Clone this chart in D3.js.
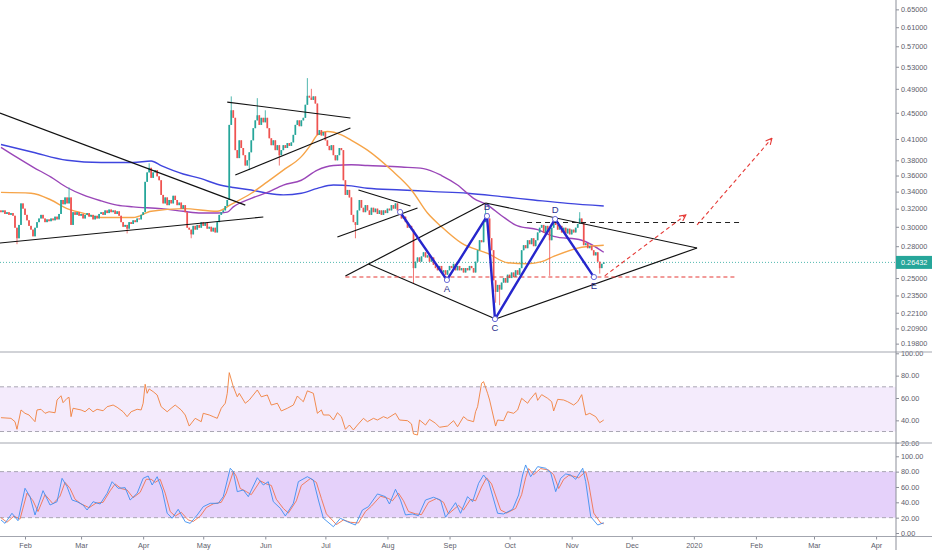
<!DOCTYPE html>
<html>
<head>
<meta charset="utf-8">
<script src="https://cdn.jsdelivr.net/npm/d3@7"></script>
<style>
  body { margin: 0; background: #fff; }
  svg { display: block; font-family: "Liberation Sans", Arial, sans-serif; }
</style>
</head>
<body>
<div id="chart"></div>
<script>
// ---- data ----
// daily candles starting 2019-01-20, day index 0..301
const firstOpen = 0.318;
const closes = [
  0.316, 0.318, 0.314, 0.316, 0.313, 0.315, 0.312, 0.299, 0.288, 0.302,
  0.326, 0.320, 0.313, 0.307, 0.301, 0.297, 0.290, 0.299, 0.305, 0.309,
  0.313, 0.309, 0.305, 0.308, 0.306, 0.309, 0.307, 0.311, 0.308, 0.314,
  0.330, 0.325, 0.333, 0.326, 0.333, 0.302, 0.316, 0.313, 0.316, 0.312,
  0.314, 0.309, 0.313, 0.315, 0.311, 0.313, 0.308, 0.312, 0.309, 0.314,
  0.316, 0.313, 0.318, 0.315, 0.319, 0.316, 0.318, 0.314, 0.317, 0.312,
  0.305, 0.300, 0.302, 0.298, 0.305, 0.303, 0.307, 0.305, 0.309, 0.308,
  0.313, 0.316, 0.352, 0.364, 0.370, 0.357, 0.364, 0.367, 0.359, 0.354,
  0.336, 0.326, 0.333, 0.324, 0.330, 0.326, 0.335, 0.330, 0.324, 0.327,
  0.320, 0.324, 0.316, 0.299, 0.297, 0.292, 0.301, 0.297, 0.302, 0.299,
  0.305, 0.301, 0.304, 0.298, 0.300, 0.295, 0.299, 0.294, 0.305, 0.313,
  0.316, 0.318, 0.323, 0.330, 0.431, 0.454, 0.442, 0.394, 0.383, 0.408,
  0.397, 0.387, 0.373, 0.380, 0.391, 0.408, 0.426, 0.438, 0.446, 0.431,
  0.442, 0.435, 0.442, 0.426, 0.411, 0.401, 0.408, 0.394, 0.401, 0.387,
  0.394, 0.401, 0.397, 0.404, 0.400, 0.405, 0.416, 0.431, 0.438, 0.429,
  0.438, 0.442, 0.463, 0.478, 0.475, 0.471, 0.477, 0.465, 0.416, 0.423,
  0.415, 0.420, 0.408, 0.400, 0.394, 0.401, 0.387, 0.380, 0.387, 0.397,
  0.394, 0.354, 0.336, 0.342, 0.333, 0.313, 0.305, 0.302, 0.318, 0.330,
  0.321, 0.316, 0.324, 0.318, 0.313, 0.321, 0.316, 0.320, 0.314, 0.318,
  0.313, 0.318, 0.315, 0.320, 0.318, 0.324, 0.320, 0.326, 0.318, 0.313,
  0.309, 0.311, 0.305, 0.299, 0.301, 0.297, 0.259, 0.265, 0.269, 0.265,
  0.270, 0.274, 0.269, 0.271, 0.265, 0.269, 0.262, 0.259, 0.257, 0.261,
  0.255, 0.257, 0.253, 0.257, 0.261, 0.259, 0.263, 0.257, 0.261, 0.257,
  0.259, 0.255, 0.259, 0.257, 0.261, 0.259, 0.255, 0.265, 0.276, 0.286,
  0.284, 0.305, 0.315, 0.309, 0.288, 0.276, 0.248, 0.238, 0.244, 0.240,
  0.246, 0.250, 0.246, 0.253, 0.250, 0.255, 0.251, 0.257, 0.253, 0.259,
  0.276, 0.281, 0.278, 0.286, 0.282, 0.288, 0.280, 0.286, 0.294, 0.299,
  0.302, 0.294, 0.301, 0.297, 0.286, 0.299, 0.305, 0.302, 0.297, 0.301,
  0.294, 0.299, 0.293, 0.298, 0.292, 0.297, 0.294, 0.299, 0.303, 0.309,
  0.305, 0.281, 0.283, 0.278, 0.280, 0.276, 0.271, 0.274, 0.265, 0.259,
  0.263, 0.26432
];
// notable wicks [day, price]
const wickHighs = [[34, 0.345], [74, 0.376], [115, 0.477], [128, 0.474], [132, 0.454],
  [153, 0.509], [155, 0.490], [242, 0.324], [289, 0.316]];
const wickLows = [[8, 0.282], [63, 0.293], [95, 0.288], [124, 0.367], [139, 0.373],
  [177, 0.288], [206, 0.245], [247, 0.229], [249, 0.227], [274, 0.252], [299, 0.254]];

// moving averages [day, price]
const maOrange = [[0, 0.339], [15, 0.338], [25, 0.330], [33, 0.320], [41, 0.315], [50, 0.310],
  [58, 0.310], [66, 0.310], [75, 0.317], [91, 0.320], [108, 0.317], [115, 0.325], [125, 0.338],
  [133, 0.352], [141, 0.367], [150, 0.385], [155, 0.403], [158, 0.416], [163, 0.421], [170, 0.416],
  [175, 0.408], [183, 0.394], [195, 0.367], [205, 0.342], [213, 0.315], [220, 0.300], [230, 0.283],
  [243, 0.273], [253, 0.264], [263, 0.263], [270, 0.265], [276, 0.270], [290, 0.279], [301, 0.281]];
const maPurple = [[0, 0.398], [8, 0.384], [16, 0.371], [25, 0.358], [33, 0.345], [41, 0.336],
  [50, 0.329], [58, 0.324], [66, 0.322], [80, 0.320], [91, 0.317], [100, 0.315], [108, 0.315],
  [113, 0.316], [116, 0.322], [125, 0.332], [133, 0.339], [141, 0.348], [150, 0.354], [158, 0.367],
  [166, 0.373], [175, 0.374], [183, 0.373], [200, 0.371], [211, 0.369], [220, 0.360], [228, 0.348],
  [236, 0.332], [243, 0.324], [250, 0.312], [258, 0.301], [268, 0.297], [276, 0.290], [290, 0.286],
  [301, 0.274]];
const maBlue = [[0, 0.402], [16, 0.391], [33, 0.380], [50, 0.377], [66, 0.377], [75, 0.379],
  [80, 0.373], [91, 0.362], [100, 0.356], [108, 0.349], [116, 0.345], [125, 0.342], [133, 0.338],
  [141, 0.336], [150, 0.338], [158, 0.344], [166, 0.348], [175, 0.347], [183, 0.344], [200, 0.342],
  [216, 0.340], [233, 0.338], [250, 0.334], [266, 0.330], [283, 0.326], [301, 0.323]];

// RSI [day, value]
const rsi = [[0, 42.4], [5, 41.8], [7, 38.8], [8, 32], [10, 49.3], [12, 46.3], [14, 44.8], [17, 38.8],
  [18, 49.3], [20, 49.9], [22, 46.3], [24, 47.7], [27, 46.8], [28, 58.2], [30, 62], [31, 55.8],
  [33, 59.7], [34, 60.6], [35, 43.3], [36, 50.8], [40, 49.3], [42, 47.7], [44, 50.8], [46, 47.7],
  [48, 49.9], [51, 48.6], [53, 52.2], [56, 53.7], [58, 51.7], [61, 47.7], [63, 43.3], [65, 47.7],
  [68, 49.9], [70, 49.3], [71, 55.3], [72, 72.3], [73, 64.2], [74, 68.1], [76, 65.7], [78, 62.7],
  [80, 52.2], [83, 47.7], [85, 50.8], [87, 53.7], [90, 49.3], [92, 44.8], [94, 34.9], [97, 41.8],
  [100, 38.8], [101, 46.3], [104, 44.8], [106, 43.3], [108, 41.8], [110, 50.8], [112, 55.3],
  [113, 64.2], [114, 82.7], [116, 70.1], [118, 61.1], [119, 64.2], [122, 55.3], [124, 58.2],
  [128, 67.2], [130, 61.1], [133, 62.7], [135, 53.7], [138, 55.3], [140, 48.4], [143, 50.8],
  [146, 53.7], [148, 61.8], [150, 58.2], [151, 56.7], [153, 66.4], [156, 64.2], [158, 46.3],
  [160, 49.3], [161, 44.8], [164, 44.8], [166, 40.3], [168, 46.8], [170, 43.3], [172, 32],
  [174, 35.8], [176, 31.4], [178, 35.8], [181, 41.8], [183, 38.8], [186, 41.8], [188, 40.3],
  [191, 43.3], [193, 41.8], [197, 46.3], [199, 40.3], [203, 39.7], [205, 36.8], [206, 27.8],
  [208, 26.9], [209, 40.3], [212, 35.8], [214, 40.9], [217, 37.4], [219, 33.8], [223, 34.9],
  [226, 39.7], [228, 34.3], [231, 43.3], [233, 40.3], [236, 38.8], [237, 47.7], [238, 52.2],
  [240, 73.2], [241, 74.6], [243, 64.2], [244, 58.2], [247, 34.9], [248, 40.3], [251, 39.7],
  [253, 47.7], [256, 46.3], [258, 49.3], [260, 59.7], [263, 55.3], [264, 58.2], [267, 64.7],
  [268, 57.9], [270, 63], [273, 59.7], [275, 56.7], [276, 48.4], [278, 58.8], [281, 58.2],
  [283, 56.7], [286, 53.7], [288, 56.7], [290, 63], [292, 44.8], [294, 46.3], [297, 43.3],
  [299, 37.9], [301, 40.3]];

// Stochastic %K and %D [day, value]
const stochK = [[0, 17], [2, 12.6], [5.5, 25.7], [8.5, 16], [12, 58.3], [14.5, 47.4], [17, 23.5],
  [21, 55.2], [24.5, 36.5], [28, 40.8], [30.5, 71.3], [33, 60.4], [35.5, 43], [38, 40.8], [41, 36.5],
  [43, 30], [46, 40.8], [49.5, 37.8], [53, 51.8], [55.5, 66.9], [58.5, 58.3], [62, 59.1], [64.5, 43],
  [68, 51.8], [71, 71.3], [73.5, 74.3], [75.5, 62.6], [78, 73.4], [80.5, 56.1], [83, 25.7],
  [85.5, 19.2], [88.5, 30.9], [92, 14.7], [94.5, 12.6], [98, 23.5], [101, 34.3], [104.5, 38.7],
  [108.5, 38.7], [111, 47.4], [114.5, 84.4], [116, 80], [118, 53.9], [121, 56.1], [123.5, 47.4],
  [128, 72.1], [131, 62.6], [133.5, 66.9], [136, 40.8], [139.5, 32.2], [142, 22.2], [146, 38.7],
  [148.5, 66.9], [153, 73.4], [156, 69.1], [158.5, 43], [161, 19.2], [166, 8.2], [169.5, 19.2],
  [173, 14.7], [177, 10.4], [180.5, 30], [183.5, 34.3], [188, 50.9], [192, 47.4], [194, 37.8],
  [197, 57], [199.5, 43], [202, 23.5], [205.5, 24.8], [208.5, 22.6], [212, 43], [216, 46.6],
  [219.5, 43], [222, 20.5], [227, 39.5], [229.5, 25.7], [233, 47.4], [235.5, 40.8], [238.5, 64.8],
  [241, 75.6], [243.5, 66.9], [248, 25.7], [251, 24.8], [255.5, 30.9], [258.5, 49.6], [260.5, 75.6],
  [262, 88.7], [264.5, 73.4], [268, 86.5], [272, 84.4], [274.5, 78.7], [277, 53.9], [279.5, 71.3],
  [282, 77], [284.5, 75.6], [287, 70], [290.5, 84.4], [292, 66.9], [294.5, 21.3], [298, 10.4],
  [301, 13.4]];
const stochD = [[0, 20], [3, 14], [6.5, 22], [9.5, 18], [13, 52], [16, 42], [18.5, 28], [22, 50],
  [26, 38], [29.5, 48], [32, 66], [34.5, 58], [37, 44], [40, 38], [44, 33], [47.5, 39], [51, 40],
  [54.5, 55], [57, 64], [60, 58], [63, 56], [66, 46], [69.5, 53], [72.5, 70], [75, 70], [77, 66],
  [79.5, 70], [82, 52], [84.5, 28], [87, 22], [90, 27], [93.5, 17], [96, 15], [99.5, 22], [102.5, 33],
  [106, 38], [110, 40], [112.5, 52], [116, 80], [117.5, 74], [119.5, 58], [122.5, 54], [125, 50],
  [129.5, 68], [132.5, 64], [135, 62], [137.5, 44], [141, 32], [143.5, 26], [147.5, 42], [150, 62],
  [154.5, 71], [157.5, 66], [160, 45], [162.5, 25], [167.5, 11], [171, 17], [174.5, 14], [178.5, 13],
  [182, 28], [185, 35], [189.5, 48], [193.5, 45], [195.5, 42], [198.5, 52], [201, 42], [203.5, 28],
  [207, 25], [210, 24], [213.5, 40], [217.5, 45], [221, 40], [223.5, 25], [228.5, 36], [231, 30],
  [234.5, 44], [237, 42], [240, 60], [242.5, 72], [245, 64], [249.5, 30], [252.5, 26], [257, 32],
  [260, 50], [262, 72], [263.5, 84], [266, 76], [269.5, 84], [273.5, 82], [276, 76], [278.5, 58],
  [281, 70], [283.5, 75], [286, 74], [288.5, 72], [292, 80], [293.5, 64], [296, 26], [299.5, 13],
  [301, 12]];

// drawings [day1, price1, day2, price2]
const trendLines = [
  [-0.5, 0.4496, 122, 0.324], [-0.5, 0.2832, 131, 0.3106],
  [113, 0.4675, 174.5, 0.4417], [117, 0.3606, 174.5, 0.4262],
  [178.5, 0.3419, 204.5, 0.3230], [168, 0.2893, 208, 0.3207],
  [172, 0.2518, 242, 0.3265], [183.5, 0.2628, 247, 0.2161],
  [242, 0.3265, 347.6, 0.2782], [247, 0.2161, 347.6, 0.2782]
];
const zigzag = [[199.3, 0.3162, ""], [222.7, 0.2483, "A"], [242.7, 0.3117, "B"],
  [246.7, 0.2161, "C"], [276.7, 0.3084, "D"], [296.1, 0.2509, "E"]];
const redLevel = [172, 367.6, 0.251];
const blackLevel = [262.7, 370, 0.3046];
const arrows = [[301.5, 0.252, 342, 0.313], [347.6, 0.302, 385, 0.411]];

const priceTicks = [0.65, 0.61, 0.57, 0.53, 0.49, 0.45, 0.41, 0.38, 0.36, 0.34, 0.32, 0.30,
  0.28, 0.25, 0.235, 0.221, 0.209, 0.198];
const rsiTicks = [100, 80, 60, 40, 20];
const stochTicks = [100, 80, 60, 40, 20, 0];
const monthTicks = ["2019-02", "2019-03", "2019-04", "2019-05", "2019-06", "2019-07", "2019-08",
  "2019-09", "2019-10", "2019-11", "2019-12", "2020-01", "2020-02", "2020-03", "2020-04"];
const lastPrice = 0.26432;

// ---- chart ----
const W = 932, H = 550, axisX = 896;
const svg = d3.select("#chart").append("svg").attr("width", W).attr("height", H);

const day0 = new Date(2019, 0, 20);
const day = d => new Date(day0.getTime() + d * 86400000);

const x = d3.scaleTime()
  .domain([new Date(2019, 1, 1), new Date(2019, 10, 1)])
  .range([25, 571.7]);
const yP = d3.scaleLog().domain([0.1922, 0.6720]).range([352, 0]);
const yR = d3.scaleLinear().domain([20, 100]).range([442.7, 353.3]);
const yS = d3.scaleLinear().domain([0, 100]).range([533, 456.3]);

const defs = svg.append("defs");
[["clipMain", 0, 352], ["clipRsi", 352, 91], ["clipStoch", 443, 93]].forEach(([id, top, h]) => {
  defs.append("clipPath").attr("id", id).append("rect")
    .attr("x", 0).attr("y", top).attr("width", axisX).attr("height", h);
});
defs.append("marker").attr("id", "arrowRed")
  .attr("viewBox", "0 0 10 10").attr("refX", 9).attr("refY", 5)
  .attr("markerWidth", 7).attr("markerHeight", 7).attr("orient", "auto")
  .append("path").attr("d", "M1,1L9,5L1,9")
  .attr("fill", "none").attr("stroke", "#e53935").attr("stroke-width", 1.4);

// oscillator backgrounds
const rsiG = svg.append("g").attr("clip-path", "url(#clipRsi)");
rsiG.append("rect").attr("x", 0).attr("width", axisX)
  .attr("y", yR(70)).attr("height", yR(30) - yR(70)).attr("fill", "#f4ebfc");
[70, 30].forEach(v => rsiG.append("line").attr("x1", 0).attr("x2", axisX)
  .attr("y1", yR(v)).attr("y2", yR(v))
  .attr("stroke", "#a9a6b3").attr("stroke-dasharray", "4,3"));

const stG = svg.append("g").attr("clip-path", "url(#clipStoch)");
stG.append("rect").attr("x", 0).attr("width", axisX)
  .attr("y", yS(80)).attr("height", yS(20) - yS(80)).attr("fill", "#e5d1fa");
[80, 20].forEach(v => stG.append("line").attr("x1", 0).attr("x2", axisX)
  .attr("y1", yS(v)).attr("y2", yS(v))
  .attr("stroke", "#a9a6b3").attr("stroke-dasharray", "4,3"));

const pairLine = (ys) => d3.line().x(d => x(day(d[0]))).y(d => ys(d[1]));

rsiG.append("path").datum(rsi).attr("d", pairLine(yR))
  .attr("fill", "none").attr("stroke", "#f0803c").attr("stroke-width", 0.9);
stG.append("path").datum(stochD).attr("d", pairLine(yS))
  .attr("fill", "none").attr("stroke", "#f2734f").attr("stroke-width", 0.9);
stG.append("path").datum(stochK).attr("d", pairLine(yS))
  .attr("fill", "none").attr("stroke", "#3d8ef0").attr("stroke-width", 0.9);

// main panel
const main = svg.append("g").attr("clip-path", "url(#clipMain)");

// last price line
main.append("line").attr("x1", 0).attr("x2", axisX)
  .attr("y1", yP(lastPrice)).attr("y2", yP(lastPrice))
  .attr("stroke", "#26a69a").attr("stroke-dasharray", "1,2").attr("stroke-width", 0.8);

// moving averages
const maLine = d3.line().x(d => x(day(d[0]))).y(d => yP(d[1])).curve(d3.curveMonotoneX);
[[maBlue, "#3f45de"], [maPurple, "#9a46b8"], [maOrange, "#f6a448"]].forEach(([data, col]) => {
  main.append("path").datum(data).attr("d", maLine)
    .attr("fill", "none").attr("stroke", col).attr("stroke-width", 1.4);
});

// candles
const hiMap = new Map(wickHighs), loMap = new Map(wickLows);
const candles = closes.map((c, i) => {
  const o = i === 0 ? firstOpen : closes[i - 1];
  const hi = Math.max(o, c, hiMap.get(i) || 0);
  const lo = Math.min(o, c, loMap.get(i) || 10);
  return { d: i, o, c, hi, lo };
});
const cg = main.append("g");
cg.selectAll("line").data(candles).enter().append("line")
  .attr("x1", d => x(day(d.d))).attr("x2", d => x(day(d.d)))
  .attr("y1", d => yP(d.hi)).attr("y2", d => yP(d.lo))
  .attr("stroke", d => d.c >= d.o ? "#26a69a" : "#ef5350").attr("stroke-width", 0.8);
cg.selectAll("rect").data(candles).enter().append("rect")
  .attr("x", d => x(day(d.d)) - 0.85).attr("width", 1.7)
  .attr("y", d => yP(Math.max(d.o, d.c)))
  .attr("height", d => Math.max(0.8, Math.abs(yP(d.o) - yP(d.c))))
  .attr("fill", d => d.c >= d.o ? "#26a69a" : "#ef5350");

// trend lines
main.selectAll(".trend").data(trendLines).enter().append("line")
  .attr("x1", d => x(day(d[0]))).attr("y1", d => yP(d[1]))
  .attr("x2", d => x(day(d[2]))).attr("y2", d => yP(d[3]))
  .attr("stroke", "#111").attr("stroke-width", 1.2);

// horizontal levels
main.append("line").attr("x1", x(day(redLevel[0]))).attr("x2", x(day(redLevel[1])))
  .attr("y1", yP(redLevel[2])).attr("y2", yP(redLevel[2]))
  .attr("stroke", "#e53935").attr("stroke-width", 1.1).attr("stroke-dasharray", "4,3");
main.append("line").attr("x1", x(day(blackLevel[0]))).attr("x2", x(day(blackLevel[1])))
  .attr("y1", yP(blackLevel[2])).attr("y2", yP(blackLevel[2]))
  .attr("stroke", "#222").attr("stroke-width", 1.1).attr("stroke-dasharray", "5,4");

// arrows
main.selectAll(".arrow").data(arrows).enter().append("line")
  .attr("x1", d => x(day(d[0]))).attr("y1", d => yP(d[1]))
  .attr("x2", d => x(day(d[2]))).attr("y2", d => yP(d[3]))
  .attr("stroke", "#e53935").attr("stroke-width", 1.1).attr("stroke-dasharray", "4,3")
  .attr("marker-end", "url(#arrowRed)");

// ABCDE zigzag
main.append("path").datum(zigzag)
  .attr("d", d3.line().x(d => x(day(d[0]))).y(d => yP(d[1])))
  .attr("fill", "none").attr("stroke", "#2626cc").attr("stroke-width", 2.4)
  .attr("stroke-linejoin", "round");
main.selectAll(".zz").data(zigzag).enter().append("circle")
  .attr("cx", d => x(day(d[0]))).attr("cy", d => yP(d[1])).attr("r", 2.6)
  .attr("fill", "#fff").attr("stroke", "#6a6ad8").attr("stroke-width", 1);
main.selectAll(".zzl").data(zigzag.filter(d => d[2])).enter().append("text")
  .attr("x", d => x(day(d[0]))).attr("y", d => yP(d[1]))
  .attr("dy", d => (d[2] === "B" || d[2] === "D") ? -6 : 12)
  .attr("text-anchor", "middle").attr("font-size", 9.5).attr("fill", "#2b2f8e")
  .text(d => d[2]);

// ---- axes ----
const axisColor = "#5d606b";
const priceAxis = svg.append("g").attr("transform", `translate(${axisX},0)`)
  .call(d3.axisRight(yP).tickValues(priceTicks).tickFormat(d3.format(".5f")).tickSize(3).tickPadding(2));
const rsiAxis = svg.append("g").attr("transform", `translate(${axisX},0)`)
  .call(d3.axisRight(yR).tickValues(rsiTicks).tickFormat(d3.format(".2f")).tickSize(3).tickPadding(2));
const stAxis = svg.append("g").attr("transform", `translate(${axisX},0)`)
  .call(d3.axisRight(yS).tickValues(stochTicks).tickFormat(d3.format(".2f")).tickSize(3).tickPadding(2));

const parseMonth = d3.timeParse("%Y-%m");
const monthDates = monthTicks.map(parseMonth);
const xAxis = svg.append("g").attr("transform", "translate(0,536.5)")
  .call(d3.axisBottom(x).tickValues(monthDates)
    .tickFormat(d => d.getMonth() === 0 ? String(d.getFullYear()) : d3.timeFormat("%b")(d))
    .tickSize(3).tickPadding(3));

[priceAxis, rsiAxis, stAxis, xAxis].forEach(g => {
  g.select(".domain").remove();
  g.selectAll("line").attr("stroke", "#8c8f99");
  g.selectAll("text").attr("fill", axisColor).attr("font-size", 7.3);
});

// frame lines
[352, 443, 536.5].forEach(yy => svg.append("line")
  .attr("x1", 0).attr("x2", W).attr("y1", yy).attr("y2", yy)
  .attr("stroke", "#a3a6af").attr("stroke-width", 1));
svg.append("line").attr("x1", axisX).attr("x2", axisX).attr("y1", 0).attr("y2", H)
  .attr("stroke", "#8c8f99").attr("stroke-width", 1);

// last price label
const lpY = yP(lastPrice);
svg.append("rect").attr("x", axisX).attr("y", lpY - 6.5).attr("width", W - axisX).attr("height", 13)
  .attr("fill", "#26a69a");
svg.append("text").attr("x", axisX + 5).attr("y", lpY).attr("dy", "0.35em")
  .attr("font-size", 7.3).attr("fill", "#fff")
  .text(d3.format(".5f")(lastPrice));
</script>
</body>
</html>
